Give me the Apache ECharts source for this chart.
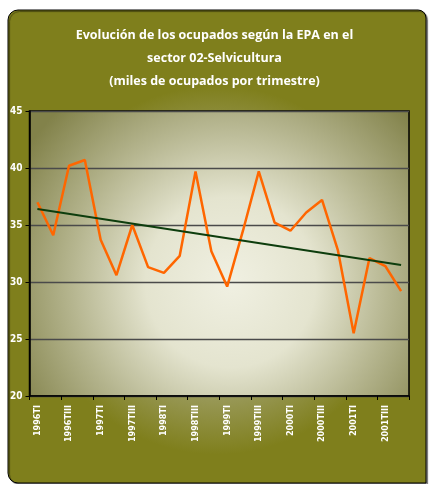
<!DOCTYPE html>
<html>
<head>
<meta charset="utf-8">
<script src="https://cdn.jsdelivr.net/npm/echarts@6/dist/echarts.min.js"></script>
<style>
html, body { margin: 0; padding: 0; background: #ffffff; }
#e_chart_1 { width: 429px; height: 484px; }
</style>
</head>
<body>
<div id="e_chart_1"></div>
<script>
/***** data *****/
var trimestres = ['1996TI','1996TII','1996TIII','1996TIV','1997TI','1997TII','1997TIII','1997TIV',
	'1998TI','1998TII','1998TIII','1998TIV','1999TI','1999TII','1999TIII','1999TIV',
	'2000TI','2000TII','2000TIII','2000TIV','2001TI','2001TII','2001TIII','2001TIV'];
var ocupados = [37.0, 34.1, 40.2, 40.7, 33.7, 30.6, 35.0, 31.3,
	30.8, 32.3, 39.7, 32.7, 29.6, 34.5, 39.7, 35.2,
	34.5, 36.1, 37.2, 32.8, 25.5, 32.1, 31.4, 29.2];
// linea de tendencia: solo extremos
var tendenciaInicio = 36.4;
var tendenciaFin = 31.5;
var yTicks = [20, 25, 30, 35, 40, 45];

var tendencia = new Array();
for (var i = 0; i < trimestres.length; i++) {
	tendencia[i] = null;
}
tendencia[0] = tendenciaInicio;
tendencia[trimestres.length - 1] = tendenciaFin;

var olive = '#7f7f1c';
var condensed = "'DejaVu Sans Condensed', 'DejaVu Sans', sans-serif";

var eChart_1 = echarts.init(document.getElementById('e_chart_1'));
var option1 = {
	animation: false,
	graphic: [{
		type: 'rect',
		z: -10,
		silent: true,
		shape: { x: 8, y: 10, width: 418, height: 473, r: [10, 8, 0, 10] },
		style: {
			stroke: '#000',
			lineWidth: 1,
			shadowBlur: 1,
			shadowOffsetX: 1.5,
			shadowOffsetY: 1.5,
			shadowColor: 'rgba(0,0,0,0.45)',
			fill: {
				type: 'radial', x: 0.5, y: 0.55, r: 0.55,
				colorStops: [
					{ offset: 0, color: '#d6d6bc' },
					{ offset: 0.45, color: '#a3a370' },
					{ offset: 0.8, color: olive },
					{ offset: 1, color: olive }
				]
			}
		}
	}],
	title: {
		text: 'Evolución de los ocupados según la EPA en el\nsector 02-Selvicultura\n(miles de ocupados por trimestre)',
		left: 'center',
		top: 19,
		textStyle: {
			color: '#fff',
			fontFamily: 'Open Sans',
			fontWeight: 'bold',
			fontSize: 12.5,
			lineHeight: 23
		}
	},
	grid: {
		left: 29.5,
		right: 20,
		top: 111,
		bottom: 88,
		show: true,
		borderColor: '#000',
		borderWidth: 1.5,
		backgroundColor: {
			type: 'radial', x: 0.53, y: 0.6, r: 0.85,
			colorStops: [
				{ offset: 0, color: '#f0f0e2' },
				{ offset: 0.35, color: '#e4e4cf' },
				{ offset: 0.65, color: '#b6b690' },
				{ offset: 1, color: '#82824a' }
			]
		}
	},
	xAxis: {
		type: 'category',
		data: trimestres,
		boundaryGap: true,
		axisLine: { lineStyle: { color: '#000', width: 1.5 } },
		axisTick: { show: true, length: 4, lineStyle: { color: '#000' } },
		axisLabel: {
			interval: 1,
			rotate: 90,
			margin: 9,
			color: '#fff',
			fontFamily: condensed,
			fontWeight: 'bold',
			fontSize: 9
		},
		splitLine: { show: false }
	},
	yAxis: {
		type: 'value',
		min: yTicks[0],
		max: yTicks[yTicks.length - 1],
		interval: 5,
		axisLine: { show: true, lineStyle: { color: '#000', width: 1.5 } },
		axisTick: { show: true, length: 4, lineStyle: { color: '#000' } },
		axisLabel: {
			margin: 7,
			color: '#fff',
			fontFamily: condensed,
			fontWeight: 'bold',
			fontSize: 10
		},
		splitLine: { show: true, lineStyle: { color: '#4a4a4a', width: 1.3 } }
	},
	series: [{
		name: 'Ocupados',
		type: 'line',
		data: ocupados,
		symbol: 'none',
		lineStyle: { color: '#ff6600', width: 2.5 },
		z: 3
	}, {
		name: 'Tendencia',
		type: 'line',
		data: tendencia,
		connectNulls: true,
		symbol: 'none',
		lineStyle: { color: '#0d3d0d', width: 2 },
		z: 4
	}]
};
eChart_1.setOption(option1);
</script>
</body>
</html>
